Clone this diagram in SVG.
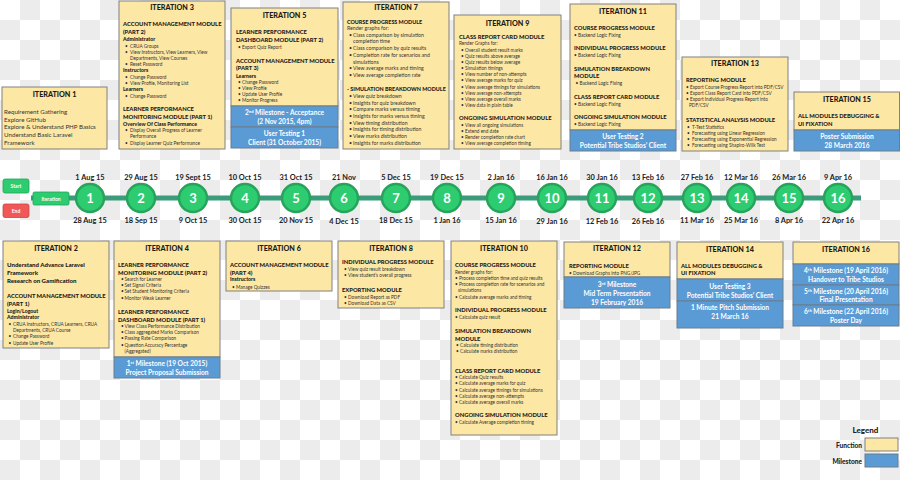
<svg xmlns="http://www.w3.org/2000/svg" width="900" height="480" viewBox="0 0 900 480">
<defs>
<pattern id="chk" width="40" height="40" patternUnits="userSpaceOnUse">
<rect width="40" height="40" fill="#ffffff"/>
<rect x="20" y="0" width="20" height="20" fill="#ececec"/>
<rect x="0" y="20" width="20" height="20" fill="#ececec"/>
</pattern>
<style>
text{font-family:Lato,"Liberation Sans",sans-serif;fill:#222}
.fn{fill:#fde7a4;stroke:#808080;stroke-width:1}
.ms{fill:#5b9bd5;stroke:#6b7c8c;stroke-width:1}
.t{font-size:7.2px;font-weight:900;text-anchor:middle;fill:#1a1a1a}
.h{font-size:5.8px;font-weight:900;fill:#1a1a1a}
.h2{font-size:5.4px;font-weight:900;fill:#1a1a1a}
.s{font-size:5.2px;font-weight:900;fill:#1a1a1a}
.b{font-size:4.7px;fill:#333}
.b2{font-size:5.2px;fill:#333}
.p{font-size:6.2px;fill:#333}
.pb{font-size:6.1px;font-weight:900;fill:#1a1a1a}
.m{font-size:6.6px;font-weight:700;fill:#fff;text-anchor:middle}
.sup{font-size:4.2px}
.c{fill:#2ecc71;stroke:#27a35c;stroke-width:2.5}
.n{font-size:13px;font-weight:700;fill:#fff;text-anchor:middle}
.d{font-size:7.4px;font-weight:700;fill:#222;text-anchor:middle}
.btn{font-size:5px;font-weight:700;fill:#fff;text-anchor:middle}
</style>
</defs>
<rect width="900" height="480" fill="url(#chk)"/>

<g id="connectors">
<line x1="31" y1="198" x2="861" y2="198" stroke="#3a9c7a" stroke-width="5"/>
</g>

<g id="start">
<rect x="3" y="179" width="26" height="14" rx="2" fill="#2ecc71" stroke="#23a35a" stroke-width="0.8"/>
<text class="btn" x="16" y="187.8">Start</text>
</g>
<g id="end">
<rect x="3" y="204" width="26" height="13.5" rx="2" fill="#f25757" stroke="#c84444" stroke-width="0.8"/>
<text class="btn" x="16" y="212.5">End</text>
</g>
<g id="iteration-label">
<rect x="33" y="192" width="36" height="13" rx="1.5" fill="#2ecc71" stroke="#23a35a" stroke-width="0.8"/>
<text class="btn" x="51" y="200.5">Iteration</text>
</g>

<g id="timeline-nodes">
<g id="n1"><circle class="c" cx="90" cy="198" r="14"/><text class="n" x="90" y="202.6">1</text><text class="d" x="90" y="180">1 Aug 15</text><text class="d" x="90" y="223">28 Aug 15</text></g>
<g id="n2"><circle class="c" cx="141" cy="198" r="14"/><text class="n" x="141" y="202.6">2</text><text class="d" x="141" y="180">29 Aug 15</text><text class="d" x="141" y="223">18 Sep 15</text></g>
<g id="n3"><circle class="c" cx="193" cy="198" r="14"/><text class="n" x="193" y="202.6">3</text><text class="d" x="193" y="180">19 Sept 15</text><text class="d" x="193" y="223">9 Oct 15</text></g>
<g id="n4"><circle class="c" cx="245" cy="198" r="14"/><text class="n" x="245" y="202.6">4</text><text class="d" x="245" y="180">10 Oct 15</text><text class="d" x="245" y="223">30 Oct 15</text></g>
<g id="n5"><circle class="c" cx="296" cy="198" r="14"/><text class="n" x="296" y="202.6">5</text><text class="d" x="296" y="180">31 Oct 15</text><text class="d" x="296" y="223">20 Nov 15</text></g>
<g id="n6"><circle class="c" cx="344" cy="198" r="14"/><text class="n" x="344" y="202.6">6</text><text class="d" x="344" y="180">21 Nov</text><text class="d" x="344" y="223.5">4 Dec 15</text></g>
<g id="n7"><circle class="c" cx="396" cy="198" r="14"/><text class="n" x="396" y="202.6">7</text><text class="d" x="396" y="180">5 Dec 15</text><text class="d" x="396" y="223">18 Dec 15</text></g>
<g id="n8"><circle class="c" cx="447" cy="198" r="14"/><text class="n" x="447" y="202.6">8</text><text class="d" x="447" y="180">19 Dec 15</text><text class="d" x="447" y="223">1 Jan 16</text></g>
<g id="n9"><circle class="c" cx="501" cy="198" r="14"/><text class="n" x="501" y="202.6">9</text><text class="d" x="501" y="180">2 Jan 16</text><text class="d" x="501" y="223">15 Jan 16</text></g>
<g id="n10"><circle class="c" cx="552" cy="198" r="14"/><text class="n" x="552" y="202.6">10</text><text class="d" x="552" y="180">16 Jan 16</text><text class="d" x="552" y="224">29 Jan 16</text></g>
<g id="n11"><circle class="c" cx="602" cy="198" r="14"/><text class="n" x="602" y="202.6">11</text><text class="d" x="602" y="179.5">30 Jan 16</text><text class="d" x="602" y="224">12 Feb 16</text></g>
<g id="n12"><circle class="c" cx="648" cy="198" r="14"/><text class="n" x="648" y="202.6">12</text><text class="d" x="648" y="180">13 Feb 16</text><text class="d" x="648" y="224">26 Feb 16</text></g>
<g id="n13"><circle class="c" cx="697" cy="198" r="14"/><text class="n" x="697" y="202.6">13</text><text class="d" x="697" y="180">27 Feb 16</text><text class="d" x="697" y="223">11 Mar 16</text></g>
<g id="n14"><circle class="c" cx="741" cy="198" r="14"/><text class="n" x="741" y="202.6">14</text><text class="d" x="741" y="180">12 Mar 16</text><text class="d" x="741" y="223">25 Mar 16</text></g>
<g id="n15"><circle class="c" cx="789" cy="198" r="14"/><text class="n" x="789" y="202.6">15</text><text class="d" x="789" y="180">26 Mar 16</text><text class="d" x="789" y="223">8 Apr 16</text></g>
<g id="n16"><circle class="c" cx="838" cy="198" r="14"/><text class="n" x="838" y="202.6">16</text><text class="d" x="838" y="180">9 Apr 16</text><text class="d" x="838" y="223">22 Apr 16</text></g>
</g>

<g id="iteration1">
<rect class="fn" x="2" y="87" width="105" height="62"/>
<text class="t" x="54.5" y="97">ITERATION 1</text>
<text class="p" x="4" y="113.5">Requirement Gathering</text>
<text class="p" x="4" y="121.5">Explore GitHub</text>
<text class="p" x="4" y="129.3">Explore &amp; Understand PHP Basics</text>
<text class="p" x="4" y="137.3">Understand Basic Laravel</text>
<text class="p" x="4" y="144.8">Framework</text>
</g>

<g id="iteration3">
<rect class="fn" x="119" y="1" width="106" height="148"/>
<text class="t" x="172" y="9.5">ITERATION 3</text>
<text class="h" x="123" y="26">ACCOUNT MANAGEMENT MODULE</text>
<text class="h" x="123" y="34">(PART 2)</text>
<text class="s" x="123" y="41">Administrator</text>
<text class="b" x="125" y="47.6">•</text><text class="b" x="130" y="47.6">CRUA Groups</text>
<text class="b" x="125" y="53.6">•</text><text class="b" x="130" y="53.6">View Instructors, View Learners, View</text>
<text class="b" x="130" y="59.6">Departments, View Courses</text>
<text class="b" x="125" y="65.6">•</text><text class="b" x="130" y="65.6">Reset Password</text>
<text class="s" x="123" y="72">Instructors</text>
<text class="b" x="125" y="78.6">•</text><text class="b" x="130" y="78.6">Change Password</text>
<text class="b" x="125" y="84.6">•</text><text class="b" x="130" y="84.6">View Profile, Monitoring List</text>
<text class="s" x="123" y="91">Learners</text>
<text class="b" x="125" y="97.6">•</text><text class="b" x="130" y="97.6">Change Password</text>
<text class="h" x="123" y="111">LEARNER PERFORMANCE</text>
<text class="h" x="123" y="119">MONITORING MODULE (PART 1)</text>
<text class="s" x="123" y="126">Overview Of Class Performance</text>
<text class="b" x="125" y="131.6">•</text><text class="b" x="130" y="131.6">Display Overall Progress of Learner</text>
<text class="b" x="130" y="137.6">Performance</text>
<text class="b" x="125" y="144.6">•</text><text class="b" x="130" y="144.6">Display Learner Quiz Performance</text>
</g>

<g id="iteration5">
<rect class="fn" x="231" y="8" width="107" height="98"/>
<rect class="ms" x="231" y="106" width="107" height="21"/>
<rect class="ms" x="231" y="127" width="107" height="21"/>
<text class="t" x="284.5" y="17.5">ITERATION 5</text>
<text class="h" x="236" y="34">LEARNER PERFORMANCE</text>
<text class="h" x="236" y="42">DASHBOARD MODULE (PART 2)</text>
<text class="b" x="238" y="48.6">•</text><text class="b" x="242" y="48.6">Export Quiz Report</text>
<text class="h" x="236" y="63">ACCOUNT MANAGEMENT MODULE</text>
<text class="h" x="236" y="70">(PART 3)</text>
<text class="s" x="236" y="77.8">Learners</text>
<text class="b" x="238" y="83.6">•</text><text class="b" x="242" y="83.6">Change Password</text>
<text class="b" x="238" y="89.6">•</text><text class="b" x="242" y="89.6">View Profile</text>
<text class="b" x="238" y="95.6">•</text><text class="b" x="242" y="95.6">Update User Profile</text>
<text class="b" x="238" y="101.6">•</text><text class="b" x="242" y="101.6">Monitor Progress</text>
<text class="m" x="284.5" y="114.5">2<tspan class="sup" baseline-shift="super">nd</tspan> Milestone - Acceptance</text>
<text class="m" x="284.5" y="123.5">(2 Nov 2015, 4pm)</text>
<text class="m" x="284.5" y="135.5">User Testing 1</text>
<text class="m" x="284.5" y="145">Client (31 October 2015)</text>
</g>

<g id="iteration7">
<rect class="fn" x="343" y="2" width="106" height="147"/>
<text class="t" x="396" y="9.8">ITERATION 7</text>
<text class="h2" x="347" y="24">COURSE PROGRESS MODULE</text>
<text class="b2" x="347" y="30">Render graphs for:</text>
<text class="b2" x="349" y="36.8">•</text><text class="b2" x="353" y="36.8">Class comparison by simulation</text>
<text class="b2" x="353" y="42.8">completion time</text>
<text class="b2" x="349" y="49.8">•</text><text class="b2" x="353" y="49.8">Class comparison by quiz results</text>
<text class="b2" x="349" y="56.8">•</text><text class="b2" x="353" y="56.8">Completion rate for scenarios and</text>
<text class="b2" x="353" y="63.8">simulations</text>
<text class="b2" x="349" y="69.8">•</text><text class="b2" x="353" y="69.8">View average marks and timing</text>
<text class="b2" x="349" y="76.8">•</text><text class="b2" x="353" y="76.8">View average completion rate</text>
<text class="h2" x="347" y="91">- SIMULATION BREAKDOWN MODULE</text>
<text class="b2" x="349" y="97.8">•</text><text class="b2" x="353" y="97.8">View quiz breakdown</text>
<text class="b2" x="349" y="104.8">•</text><text class="b2" x="353" y="104.8">Insights for quiz breakdown</text>
<text class="b2" x="349" y="110.8">•</text><text class="b2" x="353" y="110.8">Compare marks versus timing</text>
<text class="b2" x="349" y="117.8">•</text><text class="b2" x="353" y="117.8">Insights for marks versus timing</text>
<text class="b2" x="349" y="124.8">•</text><text class="b2" x="353" y="124.8">View timing distribution</text>
<text class="b2" x="349" y="130.8">•</text><text class="b2" x="353" y="130.8">Insights for timing distribution</text>
<text class="b2" x="349" y="137.8">•</text><text class="b2" x="353" y="137.8">View marks distribution</text>
<text class="b2" x="349" y="144.8">•</text><text class="b2" x="353" y="144.8">Insights for marks distribution</text>
</g>

<g id="iteration9">
<rect class="fn" x="454" y="15" width="107" height="134"/>
<text class="t" x="507.5" y="25.5">ITERATION 9</text>
<text class="h" x="459" y="39">CLASS REPORT CARD MODULE</text>
<text class="b" x="459" y="44.8">Render Graphs for:</text>
<text class="b" x="461" y="51.6">•</text><text class="b" x="465" y="51.6">Overall student result marks</text>
<text class="b" x="461" y="57.6">•</text><text class="b" x="465" y="57.6">Quiz results above average</text>
<text class="b" x="461" y="63.6">•</text><text class="b" x="465" y="63.6">Quiz results below average</text>
<text class="b" x="461" y="69.6">•</text><text class="b" x="465" y="69.6">Simulation timings</text>
<text class="b" x="461" y="75.6">•</text><text class="b" x="465" y="75.6">View number of non-attempts</text>
<text class="b" x="461" y="81.6">•</text><text class="b" x="465" y="81.6">View average marks for quiz</text>
<text class="b" x="461" y="88.6">•</text><text class="b" x="465" y="88.6">View average timings for simulations</text>
<text class="b" x="461" y="94.6">•</text><text class="b" x="465" y="94.6">View average non-attempts</text>
<text class="b" x="461" y="100.6">•</text><text class="b" x="465" y="100.6">View average overall marks</text>
<text class="b" x="461" y="106.6">•</text><text class="b" x="465" y="106.6">View data in plain table</text>
<text class="h" x="459" y="120">ONGOING SIMULATION MODULE</text>
<text class="b" x="461" y="126.6">•</text><text class="b" x="465" y="126.6">View all ongoing simulations</text>
<text class="b" x="461" y="132.6">•</text><text class="b" x="465" y="132.6">Extend end date</text>
<text class="b" x="461" y="138.6">•</text><text class="b" x="465" y="138.6">Render completion rate chart</text>
<text class="b" x="461" y="144.6">•</text><text class="b" x="465" y="144.6">View average completion timing</text>
</g>

<g id="iteration11">
<rect class="fn" x="570" y="4" width="106" height="126"/>
<rect class="ms" x="570" y="130" width="106" height="21"/>
<text class="t" x="623" y="13.5">ITERATION 11</text>
<text class="h" x="574" y="30">COURSE PROGRESS MODULE</text>
<text class="b" x="574" y="36.6">• Backend Logic Fixing</text>
<text class="h" x="574" y="50">INDIVIDUAL PROGRESS MODULE</text>
<text class="b" x="574" y="56.6">• Backend Logic Fixing</text>
<text class="h" x="574" y="71">SIMULATION BREAKDOWN</text>
<text class="h" x="574" y="78">MODULE</text>
<text class="b" x="575.5" y="84.6">• Backend Logic Fixing</text>
<text class="h" x="574" y="99">CLASS REPORT CARD MODULE</text>
<text class="b" x="574" y="105.6">• Backend Logic Fixing</text>
<text class="h" x="574" y="119">ONGOING SIMULATION MODULE</text>
<text class="b" x="574" y="125.6">• Backend Logic Fixing</text>
<text class="m" x="623" y="138.5">User Testing 2</text>
<text class="m" x="623" y="147.5">Potential Tribe Studios’ Client</text>
</g>

<g id="iteration13">
<rect class="fn" x="682" y="57" width="106" height="94"/>
<text class="t" x="735" y="65.5">ITERATION 13</text>
<text class="h" x="686" y="82">REPORTING MODULE</text>
<text class="b" x="686" y="88.6">• Export Course Progress Report into PDF/CSV</text>
<text class="b" x="686" y="94.6">• Export Class Report Card into PDF/CSV</text>
<text class="b" x="686" y="100.6">• Export Individual Progress Report into</text>
<text class="b" x="689" y="106.6">PDF/CSV</text>
<text class="h" x="686" y="122">STATISTICAL ANALYSIS MODULE</text>
<text class="b" x="687" y="128.6">•</text><text class="b" x="692" y="128.6">T-Test Statistics</text>
<text class="b" x="687" y="134.6">•</text><text class="b" x="692" y="134.6">Forecasting using Linear Regression</text>
<text class="b" x="687" y="140.6">•</text><text class="b" x="692" y="140.6">Forecasting using Exponential Regression</text>
<text class="b" x="687" y="147">•</text><text class="b" x="692" y="147">Forecasting using Shapiro-Wilk Test</text>
</g>

<g id="iteration15">
<rect class="fn" x="794" y="92" width="105.5" height="38"/>
<rect class="ms" x="794" y="130" width="105.5" height="21"/>
<text class="t" x="847" y="101.5">ITERATION 15</text>
<text class="h" x="798" y="118">ALL MODULES DEBUGGING &amp;</text>
<text class="h" x="798" y="126">UI FIXATION</text>
<text class="m" x="847" y="138.5">Poster Submission</text>
<text class="m" x="847" y="147.5">28 March 2016</text>
</g>

<g id="iteration2">
<rect class="fn" x="3" y="241" width="106" height="107"/>
<text class="t" x="56" y="250.5">ITERATION 2</text>
<text class="pb" x="7" y="267">Understand Advance Laravel</text>
<text class="pb" x="7" y="275">Framework</text>
<text class="pb" x="7" y="282.5">Research on Gamification</text>
<text class="h" x="7" y="298">ACCOUNT MANAGEMENT MODULE</text>
<text class="h" x="7" y="306">(PART 1)</text>
<text class="s" x="7" y="313">Login/Logout</text>
<text class="s" x="7" y="319.2">Administrator</text>
<text class="b" x="8.5" y="325.6">•</text><text class="b" x="13" y="325.6">CRUA Instructors, CRUA Learners, CRUA</text>
<text class="b" x="13" y="331.6">Departments, CRUA Course</text>
<text class="b" x="8.5" y="337.6">•</text><text class="b" x="13" y="337.6">Change Password</text>
<text class="b" x="8.5" y="344.6">•</text><text class="b" x="13" y="344.6">Update User Profile</text>
</g>

<g id="iteration4">
<rect class="fn" x="114" y="241" width="106" height="116"/>
<rect class="ms" x="114" y="357" width="106" height="21"/>
<text class="t" x="167" y="250.5">ITERATION 4</text>
<text class="h" x="118" y="267">LEARNER PERFORMANCE</text>
<text class="h" x="118" y="275">MONITORING MODULE (PART 2)</text>
<text class="b" x="121" y="280.6">•</text><text class="b" x="124.5" y="280.6">Search for Learner</text>
<text class="b" x="121" y="287">•</text><text class="b" x="124.5" y="287">Set Signal Criteria</text>
<text class="b" x="121" y="293.4">•</text><text class="b" x="124.5" y="293.4">Set Student Monitoring Criteria</text>
<text class="b" x="121" y="299.6">•</text><text class="b" x="124.5" y="299.6">Monitor Weak Learner</text>
<text class="h" x="118" y="314">LEARNER PERFORMANCE</text>
<text class="h" x="118" y="322">DASHBOARD MODULE (PART 1)</text>
<text class="b" x="121" y="327.6">•</text><text class="b" x="124.5" y="327.6">View Class Performance Distribution</text>
<text class="b" x="121" y="334">•</text><text class="b" x="124.5" y="334">Class aggregated Marks Comparison</text>
<text class="b" x="121" y="340.4">•</text><text class="b" x="124.5" y="340.4">Passing Rate Comparison</text>
<text class="b" x="121" y="346.6">•</text><text class="b" x="124.5" y="346.6">Question Accuracy Percentage</text>
<text class="b" x="124.5" y="352.6">(Aggregated)</text>
<text class="m" x="167" y="365.5">1<tspan class="sup" baseline-shift="super">st</tspan> Milestone (19 Oct 2015)</text>
<text class="m" x="167" y="374.5">Project Proposal Submission</text>
</g>

<g id="iteration6">
<rect class="fn" x="226" y="241" width="106" height="50"/>
<text class="t" x="279" y="250.5">ITERATION 6</text>
<text class="h" x="230" y="267">ACCOUNT MANAGEMENT MODULE</text>
<text class="h" x="230" y="274.5">(PART 4)</text>
<text class="s" x="230" y="281.3">Instructors</text>
<text class="b" x="232" y="288.6">•</text><text class="b" x="236" y="288.6">Manage Quizzes</text>
</g>

<g id="iteration8">
<rect class="fn" x="338" y="241" width="106" height="67"/>
<text class="t" x="391" y="250.5">ITERATION 8</text>
<text class="h" x="342" y="264">INDIVIDUAL PROGRESS MODULE</text>
<text class="b" x="344" y="270.6">•</text><text class="b" x="348" y="270.6">View quiz result breakdown</text>
<text class="b" x="344" y="277.3">•</text><text class="b" x="348" y="277.3">View student’s overall progress</text>
<text class="h" x="342" y="292">EXPORTING MODULE</text>
<text class="b" x="344" y="298.6">•</text><text class="b" x="348" y="298.6">Download Report as PDF</text>
<text class="b" x="344" y="305.3">•</text><text class="b" x="348" y="305.3">Download Data as CSV</text>
</g>

<g id="iteration10">
<rect class="fn" x="451" y="241" width="106" height="194"/>
<text class="t" x="504" y="250.5">ITERATION 10</text>
<text class="h" x="455" y="267">COURSE PROGRESS MODULE</text>
<text class="b" x="455" y="273.6">Render graphs for:</text>
<text class="b" x="455" y="279.6">• Process completion time and quiz results</text>
<text class="b" x="455" y="285.6">• Process completion rate for scenarios and</text>
<text class="b" x="458" y="292">simulations</text>
<text class="b" x="455" y="298.6">• Calculate average marks and timing</text>
<text class="h" x="455" y="312">INDIVIDUAL PROGRESS MODULE</text>
<text class="b" x="455" y="318.6">• Calculate quiz result</text>
<text class="h" x="455" y="333">SIMULATION BREAKDOWN</text>
<text class="h" x="455" y="340.5">MODULE</text>
<text class="b" x="456" y="346.6">•</text><text class="b" x="460" y="346.6">Calculate timing distribution</text>
<text class="b" x="456" y="352.8">•</text><text class="b" x="460" y="352.8">Calculate marks distribution</text>
<text class="h" x="455" y="373">CLASS REPORT CARD MODULE</text>
<text class="b" x="455" y="378.8">• Calculate Quiz results</text>
<text class="b" x="455" y="385.2">• Calculate average marks for quiz</text>
<text class="b" x="455" y="391.6">• Calculate average timings for simulations</text>
<text class="b" x="455" y="397.8">• Calculate average non-attempts</text>
<text class="b" x="455" y="403.8">• Calculate average overall marks</text>
<text class="h" x="455" y="417">ONGOING SIMULATION MODULE</text>
<text class="b" x="455" y="423.8">• Calculate Average completion timing</text>
</g>

<g id="iteration12">
<rect class="fn" x="564" y="242" width="106" height="35"/>
<rect class="ms" x="564" y="277" width="106" height="31"/>
<text class="t" x="617" y="251.3">ITERATION 12</text>
<text class="h" x="569" y="267.5">REPORTING MODULE</text>
<text class="b" x="569" y="274.8">• Download Graphs into PNG/JPG</text>
<text class="m" x="617" y="286.5">3<tspan class="sup" baseline-shift="super">rd</tspan> Milestone</text>
<text class="m" x="617" y="295.5">Mid Term Presentation</text>
<text class="m" x="617" y="304.5">19 February 2016</text>
</g>

<g id="iteration14">
<rect class="fn" x="677" y="242" width="106" height="37"/>
<rect class="ms" x="677" y="279" width="106" height="22"/>
<rect class="ms" x="677" y="301" width="106" height="27"/>
<text class="t" x="730" y="251.6">ITERATION 14</text>
<text class="h" x="681" y="268">ALL MODULES DEBUGGING &amp;</text>
<text class="h" x="681" y="275.3">UI FIXATION</text>
<text class="m" x="730" y="288.5">User Testing 3</text>
<text class="m" x="730" y="297.5">Potential Tribe Studios’ Client</text>
<text class="m" x="730" y="309.5">1 Minute Pitch Submission</text>
<text class="m" x="730" y="318.5">21 March 16</text>
</g>

<g id="iteration16">
<rect class="fn" x="793" y="242" width="106" height="22"/>
<rect class="ms" x="793" y="264" width="106" height="21"/>
<rect class="ms" x="793" y="285" width="106" height="20"/>
<rect class="ms" x="793" y="305" width="106" height="21"/>
<text class="t" x="846" y="251.6">ITERATION 16</text>
<text class="m" x="846" y="272.5">4<tspan class="sup" baseline-shift="super">th</tspan> Milestone (19 April 2016)</text>
<text class="m" x="846" y="281.5">Handover to Tribe Studios</text>
<text class="m" x="846" y="293.5">5<tspan class="sup" baseline-shift="super">th</tspan> Milestone (20 April 2016)</text>
<text class="m" x="846" y="302.3">Final Presentation</text>
<text class="m" x="846" y="313.5">6<tspan class="sup" baseline-shift="super">th</tspan> Milestone (22 April 2016)</text>
<text class="m" x="846" y="322.5">Poster Day</text>
</g>

<g id="legend">
<text x="865.5" y="433" style="font-size:8px;font-weight:900;text-anchor:middle">Legend</text>
<text x="862" y="447.5" style="font-size:6.6px;font-weight:900;text-anchor:end">Function</text>
<rect class="fn" x="865" y="438" width="33" height="13"/>
<text x="862" y="463.5" style="font-size:6.6px;font-weight:900;text-anchor:end">Milestone</text>
<rect class="ms" x="865" y="454" width="33" height="13"/>
</g>
</svg>
